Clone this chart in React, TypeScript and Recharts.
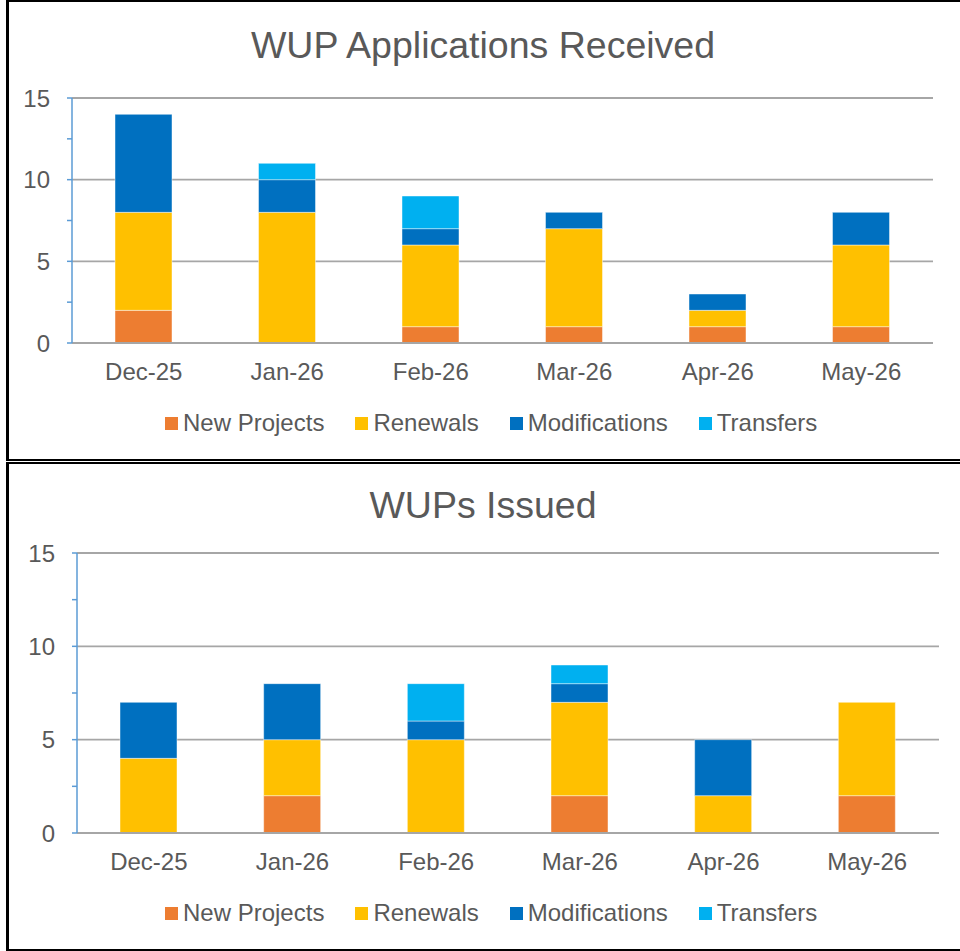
import { BarChart, Bar, XAxis, YAxis, CartesianGrid } from 'recharts'

const months = ['Dec-25', 'Jan-26', 'Feb-26', 'Mar-26', 'Apr-26', 'May-26']
const seriesNames = ['New Projects', 'Renewals', 'Modifications', 'Transfers']
const seriesColors = ['#ED7D31', '#FFC000', '#0070C0', '#00B0F0']

// WUP Applications Received
const recvNew = [2, 0, 1, 1, 1, 1]
const recvRenewals = [6, 8, 5, 6, 1, 5]
const recvMods = [6, 2, 1, 1, 1, 2]
const recvTransfers = [0, 1, 2, 0, 0, 0]

// WUPs Issued
const issNew = [0, 2, 0, 2, 0, 2]
const issRenewals = [4, 3, 5, 5, 2, 5]
const issMods = [3, 3, 1, 1, 3, 0]
const issTransfers = [0, 0, 2, 1, 0, 0]

const yTicks = [0, 2.5, 5, 7.5, 10, 12.5, 15]
const yLabelTicks = [0, 5, 10, 15]

const FONT = '"Liberation Sans", Arial, sans-serif'
const TEXT = '#595959'

function buildRows(a: number[], b: number[], c: number[], d: number[]) {
  return months.map((m, i) => ({
    month: m,
    [seriesNames[0]]: a[i],
    [seriesNames[1]]: b[i],
    [seriesNames[2]]: c[i],
    [seriesNames[3]]: d[i],
  }))
}

const receivedData = buildRows(recvNew, recvRenewals, recvMods, recvTransfers)
const issuedData = buildRows(issNew, issRenewals, issMods, issTransfers)

interface PanelProps {
  title: string
  data: any[]
  top: number
  height: number
  plotLeft: number
  plotRight: number
  plotTop: number
  plotBottom: number
  titleY: number
  legendY: number
}

function Panel({ title, data, top, height, plotLeft, plotRight, plotTop, plotBottom, titleY, legendY }: PanelProps) {
  const yAxisWidth = 60
  const xAxisHeight = 40
  return (
    <>
      {/* box border */}
      <div
        style={{
          position: 'absolute',
          left: 6,
          top,
          width: 954,
          height,
          boxSizing: 'border-box',
          borderTop: '2px solid #000',
          borderBottom: '2px solid #000',
          borderLeft: '3px solid #000',
        }}
      />
      <div
        style={{
          position: 'absolute',
          left: 6,
          width: 954,
          top: titleY - 22,
          lineHeight: '44px',
          fontSize: 37.5,
          textAlign: 'center',
          color: TEXT,
          fontFamily: FONT,
        }}
      >
        {title}
      </div>
      <div style={{ position: 'absolute', left: 0, top }}>
        <BarChart
          width={960}
          height={height}
          data={data}
          barSize={57}
          margin={{
            top: plotTop - top,
            left: plotLeft - yAxisWidth,
            right: 960 - plotRight,
            bottom: top + height - plotBottom - xAxisHeight,
          }}
        >
          <CartesianGrid
            vertical={false}
            horizontalValues={[5, 10, 15]}
            stroke="#A6A6A6"
            strokeWidth={1.8}
          />
          <XAxis
            dataKey="month"
            height={xAxisHeight}
            tickLine={false}
            tickSize={0}
            tickMargin={20}
            axisLine={{ stroke: '#A6A6A6', strokeWidth: 1.8 }}
            tick={{ fill: TEXT, fontSize: 24, fontFamily: FONT }}
          />
          <YAxis
            width={yAxisWidth}
            domain={[0, 15]}
            ticks={yTicks}
            interval={0}
            tickSize={5}
            tickMargin={17}
            tickFormatter={(v: number) => (yLabelTicks.includes(v) ? String(v) : '')}
            axisLine={{ stroke: '#5B9BD5', strokeWidth: 1.5 }}
            tickLine={{ stroke: '#5B9BD5', strokeWidth: 1.5 }}
            tick={{ fill: TEXT, fontSize: 24, fontFamily: FONT }}
          />
          {seriesNames.map((name, i) => (
            <Bar
              key={name}
              dataKey={name}
              stackId="a"
              fill={seriesColors[i]}
              stroke="rgba(255,255,255,0.45)"
              strokeWidth={1}
              isAnimationActive={false}
            />
          ))}
        </BarChart>
      </div>
      {/* legend */}
      <div
        style={{
          position: 'absolute',
          left: 165,
          top: legendY - 14,
          display: 'flex',
          alignItems: 'center',
          lineHeight: '28px',
          fontSize: 24,
          color: TEXT,
          fontFamily: FONT,
        }}
      >
        {seriesNames.map((name, i) => (
          <div key={name} style={{ display: 'flex', alignItems: 'center', marginRight: 31 }}>
            <span style={{ width: 13, height: 13, background: seriesColors[i], marginRight: 5, display: 'inline-block' }} />
            <span>{name}</span>
          </div>
        ))}
      </div>
    </>
  )
}

export default function App() {
  return (
    <div style={{ position: 'absolute', left: 0, top: 0, width: 960, height: 951, background: '#fff', overflow: 'hidden' }}>
      <Panel
        title="WUP Applications Received"
        data={receivedData}
        top={0}
        height={461}
        plotLeft={72}
        plotRight={933}
        plotTop={98}
        plotBottom={343}
        titleY={45}
        legendY={423}
      />
      <Panel
        title="WUPs Issued"
        data={issuedData}
        top={462}
        height={489}
        plotLeft={77}
        plotRight={939}
        plotTop={553}
        plotBottom={833}
        titleY={505}
        legendY={913}
      />
    </div>
  )
}
